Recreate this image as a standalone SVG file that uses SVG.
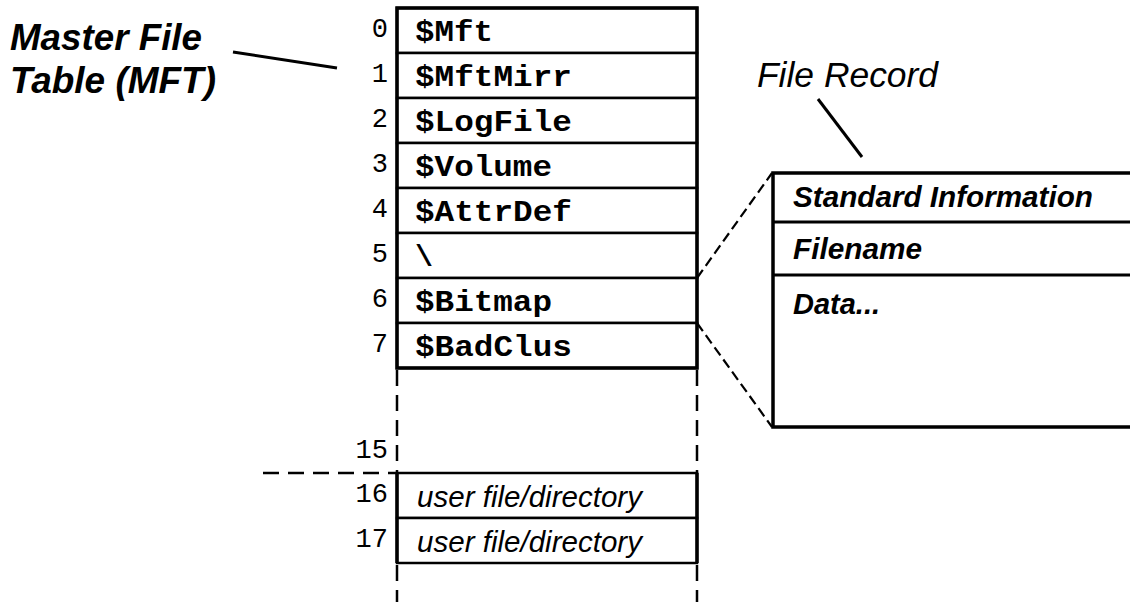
<svg xmlns="http://www.w3.org/2000/svg" width="1130" height="602" viewBox="0 0 1130 602">
<style>
.num{font-family:"Liberation Mono",monospace;font-size:27px;text-anchor:end;fill:#000}
.lbl{font-family:"Liberation Mono",monospace;font-weight:bold;font-size:30px;fill:#000}
.usr{font-family:"Liberation Sans",Arial,sans-serif;font-style:italic;font-size:29px;fill:#000}
.bi{font-family:"Liberation Sans",Arial,sans-serif;font-style:italic;font-weight:bold;fill:#000}
.it{font-family:"Liberation Sans",Arial,sans-serif;font-style:italic;fill:#000}
.row{fill:#fff;stroke:#000;stroke-width:2.5}
.thick{stroke:#000;stroke-width:3.5;fill:none}
.solid{stroke:#000;stroke-width:3;fill:none}
.dash{stroke:#000;stroke-width:2.5;fill:none;stroke-dasharray:16 9}
.dash2{stroke:#000;stroke-width:2.2;fill:none;stroke-dasharray:10 5}
</style>
<rect width="1130" height="602" fill="#fff"/>
<g id="mft-title">
<text class="bi" x="10" y="50" font-size="36" textLength="192" lengthAdjust="spacingAndGlyphs">Master File</text>
<text class="bi" x="10" y="93" font-size="36" textLength="206" lengthAdjust="spacingAndGlyphs">Table (MFT)</text>
</g>
<g id="mft">
<rect class="row" x="397" y="8" width="300" height="45"/>
<rect class="row" x="397" y="53" width="300" height="45"/>
<rect class="row" x="397" y="98" width="300" height="45"/>
<rect class="row" x="397" y="143" width="300" height="45"/>
<rect class="row" x="397" y="188" width="300" height="45"/>
<rect class="row" x="397" y="233" width="300" height="45"/>
<rect class="row" x="397" y="278" width="300" height="45"/>
<rect class="row" x="397" y="323" width="300" height="45"/>
<rect class="thick" x="397" y="8" width="300" height="360"/>
<text class="num" x="388" y="37">0</text>
<text class="num" x="388" y="82">1</text>
<text class="num" x="388" y="127">2</text>
<text class="num" x="388" y="172">3</text>
<text class="num" x="388" y="217">4</text>
<text class="num" x="388" y="262">5</text>
<text class="num" x="388" y="307">6</text>
<text class="num" x="388" y="352">7</text>
<text class="lbl" x="415" y="41" textLength="78" lengthAdjust="spacingAndGlyphs">$Mft</text>
<text class="lbl" x="415" y="86" textLength="157" lengthAdjust="spacingAndGlyphs">$MftMirr</text>
<text class="lbl" x="415" y="131" textLength="157" lengthAdjust="spacingAndGlyphs">$LogFile</text>
<text class="lbl" x="415" y="176" textLength="137" lengthAdjust="spacingAndGlyphs">$Volume</text>
<text class="lbl" x="415" y="221" textLength="157" lengthAdjust="spacingAndGlyphs">$AttrDef</text>
<text class="lbl" x="415" y="266">\</text>
<text class="lbl" x="415" y="311" textLength="137" lengthAdjust="spacingAndGlyphs">$Bitmap</text>
<text class="lbl" x="415" y="356" textLength="157" lengthAdjust="spacingAndGlyphs">$BadClus</text>
</g>
<g id="user-rows">
<rect class="row" x="397" y="473" width="300" height="45"/>
<rect class="row" x="397" y="518" width="300" height="45"/>
<line class="thick" x1="397" y1="473" x2="397" y2="563"/>
<line class="thick" x1="697" y1="473" x2="697" y2="563"/>
<text class="num" x="388" y="458">15</text>
<text class="num" x="388" y="502">16</text>
<text class="num" x="388" y="547">17</text>
<text class="usr" x="417" y="507" textLength="225" lengthAdjust="spacingAndGlyphs">user file/directory</text>
<text class="usr" x="417" y="552" textLength="225" lengthAdjust="spacingAndGlyphs">user file/directory</text>
</g>
<g id="file-record">
<text class="it" x="757" y="87" font-size="35" textLength="181" lengthAdjust="spacingAndGlyphs">File Record</text>
<path class="thick" d="M1132,173 H773 V427 H1132"/>
<line class="solid" x1="773" y1="222" x2="1132" y2="222"/>
<line class="solid" x1="773" y1="275" x2="1132" y2="275"/>
<text class="bi" x="793" y="207" font-size="29" textLength="300" lengthAdjust="spacingAndGlyphs">Standard Information</text>
<text class="bi" x="793" y="259" font-size="29" textLength="129" lengthAdjust="spacingAndGlyphs">Filename</text>
<text class="bi" x="793" y="314" font-size="29" textLength="87" lengthAdjust="spacingAndGlyphs">Data...</text>
</g>
<g id="connectors">
<line class="solid" x1="233" y1="52" x2="337" y2="68"/>
<line class="solid" x1="818" y1="99" x2="862" y2="157"/>
<line class="dash2" x1="697" y1="278" x2="772" y2="173"/>
<line class="dash2" x1="697" y1="323" x2="772" y2="427"/>
<line class="dash" x1="397" y1="370" x2="397" y2="473"/>
<line class="dash" x1="697" y1="370" x2="697" y2="473"/>
<line class="dash" x1="397" y1="565" x2="397" y2="602"/>
<line class="dash" x1="697" y1="565" x2="697" y2="602"/>
<line class="dash" x1="263" y1="473" x2="397" y2="473" stroke-dasharray="17 10"/>
</g>
</svg>
